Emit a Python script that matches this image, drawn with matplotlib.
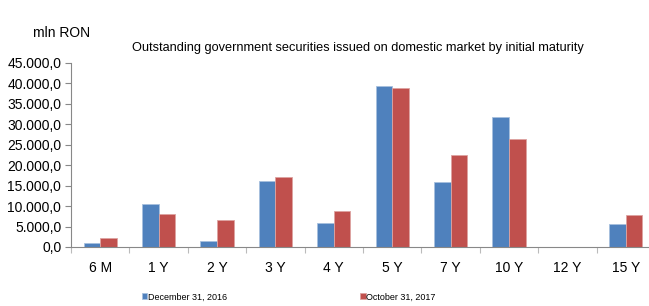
import matplotlib.pyplot as plt
import numpy as np
from matplotlib.ticker import FuncFormatter, MultipleLocator

plt.rcParams['font.family'] = ['Liberation Sans', 'DejaVu Sans']

categories = ['6 M', '1 Y', '2 Y', '3 Y', '4 Y', '5 Y', '7 Y', '10 Y', '12 Y', '15 Y']
dec_2016 = [1050, 10500, 1400, 16050, 5900, 39450, 15850, 31700, 0, 5550]
oct_2017 = [2200, 8100, 6600, 17100, 8800, 38950, 22450, 26350, 0, 7850]
series_names = ['December 31, 2016', 'October 31, 2017']

blue = '#4F81BD'
red = '#C0504D'

W, H = 649, 306
fig = plt.figure(figsize=(W / 100, H / 100), dpi=100)
ax = fig.add_axes([71 / W, 59 / H, 584 / W, 184 / H])

x = np.arange(len(categories))
w = 0.285
b1 = ax.bar(x - w / 2, dec_2016, width=w, color=blue, edgecolor='#A7C0DE', linewidth=0.6, label=series_names[0])
b2 = ax.bar(x + w / 2, oct_2017, width=w, color=red, edgecolor='#DDA3A1', linewidth=0.6, label=series_names[1])

ax.set_xlim(-0.5, len(categories) - 0.5)
ax.set_ylim(0, 45000)
ax.yaxis.set_major_locator(MultipleLocator(5000))


def fmt(v, pos):
    s = f'{v:,.1f}'
    return s.replace(',', 'X').replace('.', ',').replace('X', '.')


ax.yaxis.set_major_formatter(FuncFormatter(fmt))
ax.set_xticks(x)
ax.set_xticklabels(categories)
ax.set_xticks(np.arange(len(categories) + 1) - 0.5, minor=True)
ax.tick_params(axis='x', which='major', length=0, labelsize=10, pad=10)
ax.tick_params(axis='x', which='minor', length=4, color='#BBBBBB', width=0.8)
ax.tick_params(axis='y', length=4, color='#888888', width=0.8, labelsize=10, pad=3)

for side in ['top', 'right']:
    ax.spines[side].set_visible(False)
ax.spines['left'].set_color('#888888')
ax.spines['bottom'].set_color('#888888')
ax.spines['left'].set_linewidth(0.8)
ax.spines['bottom'].set_linewidth(0.8)

fig.text(33 / W, 1 - 33 / H, 'mln RON', fontsize=10, va='center', ha='left')
fig.text(358 / W, 1 - 48 / H, 'Outstanding government securities issued on domestic market by initial maturity',
         fontsize=9.2, va='center', ha='center')

fig.legend(handles=[b1, b2], loc='center left', bbox_to_anchor=(142 / W, 1 - 297 / H), ncol=2,
           frameon=False, fontsize=6.5, handlelength=0.6, handleheight=0.6, handletextpad=0.1,
           columnspacing=14.7, borderpad=0, borderaxespad=0)

fig.savefig('out.png', dpi=100)
